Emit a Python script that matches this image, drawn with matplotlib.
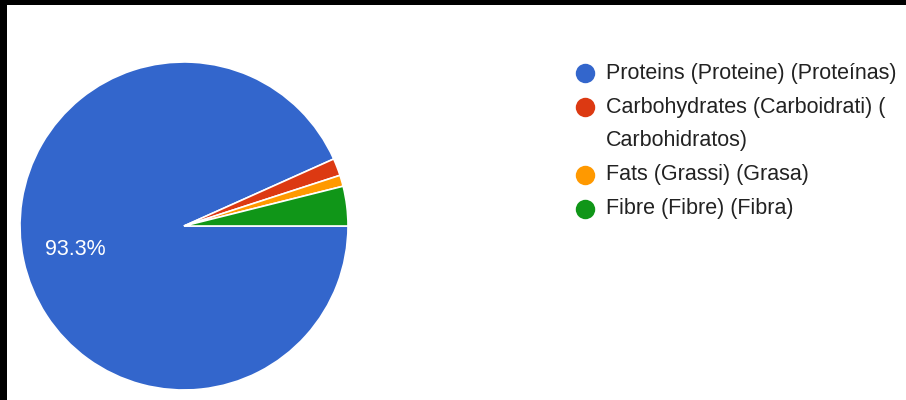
import matplotlib.pyplot as plt
from matplotlib.patches import Rectangle

# nutrient shares, in percent
labels = ["Proteins (Proteine) (Proteínas)",
          "Carbohydrates (Carboidrati) (\nCarbohidratos)",
          "Fats (Grassi) (Grasa)",
          "Fibre (Fibre) (Fibra)"]
shares = [93.3, 1.7, 1.1, 3.9]
colors = ["#3366cc", "#dc3912", "#ff9900", "#109618"]

plt.rcParams['font.family'] = ['Liberation Sans', 'DejaVu Sans']

W, H = 906, 400
fig = plt.figure(figsize=(W / 100, H / 100), dpi=100)
fig.patch.set_facecolor("white")

# pie axes, placed in pixels: centre (184, 226), radius 164
cx, cy, r = 184, 226, 164
ax = fig.add_axes([(cx - r) / W, (H - cy - r) / H, 2 * r / W, 2 * r / H])
wedges, _, pcts = ax.pie(shares, colors=colors, startangle=0, counterclock=False,
                         radius=1, autopct="%1.1f%%", pctdistance=0.68,
                         wedgeprops=dict(edgecolor="white", linewidth=1.2),
                         textprops=dict(color="white", fontsize=15.5))
# only the big slice gets its percentage printed
for t, v in zip(pcts, shares):
    if v < 10:
        t.set_visible(False)
ax.set_xlim(-1, 1)
ax.set_ylim(-1, 1)
ax.set_aspect("equal")
ax.axis("off")

# legend drawn in pixel coordinates
lg = fig.add_axes([0, 0, 1, 1], facecolor="none")
lg.set_xlim(0, W)
lg.set_ylim(H, 0)
lg.axis("off")
y = 73
for lab, col in zip(labels, colors):
    lg.plot(585, y, "o", color=col, markersize=14, markeredgewidth=0)
    for line in lab.split("\n"):
        lg.text(606, y, line, fontsize=15.5, color="#222222", va="center", ha="left")
        y += 33.5
    y += 0.5

# dark frame edges left by the screen grab
fig.patches.append(Rectangle((0, 0), 7 / W, 1, transform=fig.transFigure,
                             facecolor="black", edgecolor="none"))
fig.patches.append(Rectangle((0, 1 - 5 / H), 1, 5 / H, transform=fig.transFigure,
                             facecolor="black", edgecolor="none"))

fig.savefig("out.png", dpi=100)
